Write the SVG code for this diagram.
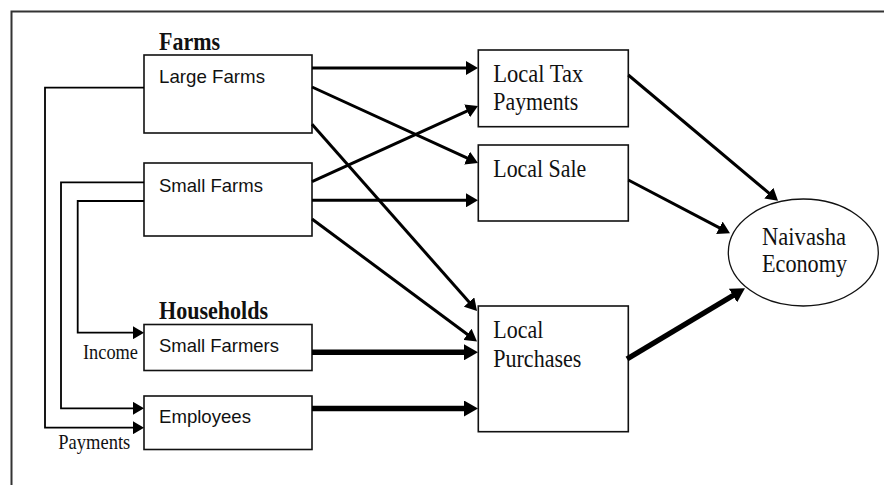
<svg xmlns="http://www.w3.org/2000/svg" width="884" height="485" viewBox="0 0 884 485">
  <style>
    .box { fill: #fff; stroke: #111; stroke-width: 1.6; }
    .oval { fill: #fff; stroke: #111; stroke-width: 1.3; }
    .sans { font-family: "Liberation Sans", Arial, sans-serif; font-size: 18.5px; fill: #111; }
    .serif { font-family: "Liberation Serif", "Times New Roman", serif; font-size: 25.5px; fill: #111; }
    .small { font-family: "Liberation Serif", "Times New Roman", serif; font-size: 21px; fill: #111; }
    .head { font-family: "Liberation Serif", "Times New Roman", serif; font-size: 25px; font-weight: bold; fill: #111; }
    .flow { fill: none; stroke: #000; stroke-width: 3; marker-end: url(#arr); }
    .heavy { fill: none; stroke: #000; stroke-width: 5.5; marker-end: url(#arrBig); }
    .feed { fill: none; stroke: #000; stroke-width: 1.8; marker-end: url(#arrSmall); }
  </style>
  <defs>
    <marker id="arr" markerUnits="userSpaceOnUse" markerWidth="12" markerHeight="14" refX="4" refY="7" orient="auto">
      <path d="M0,0 L12,7 L0,14 z" fill="#000"/>
    </marker>
    <marker id="arrBig" markerUnits="userSpaceOnUse" markerWidth="14" markerHeight="16" refX="4" refY="8" orient="auto">
      <path d="M0,0 L14,8 L0,16 z" fill="#000"/>
    </marker>
    <marker id="arrSmall" markerUnits="userSpaceOnUse" markerWidth="11" markerHeight="13" refX="3" refY="6.5" orient="auto">
      <path d="M0,0 L11,6.5 L0,13 z" fill="#000"/>
    </marker>
  </defs>

  <rect width="884" height="485" fill="#fff"/>
  <!-- outer frame (open to the right and bottom) -->
  <rect x="11.5" y="11.5" width="900" height="500" fill="none" stroke="#333" stroke-width="2"/>

  <!-- group headings -->
  <text class="head" x="159" y="50" textLength="61" lengthAdjust="spacingAndGlyphs">Farms</text>
  <text class="head" x="159" y="319" textLength="109" lengthAdjust="spacingAndGlyphs">Households</text>

  <g id="large-farms">
    <rect class="box" x="144" y="55" width="168" height="78"/>
    <text class="sans" x="159" y="83.3" textLength="106" lengthAdjust="spacingAndGlyphs">Large Farms</text>
  </g>
  <g id="small-farms">
    <rect class="box" x="144" y="163" width="168" height="73"/>
    <text class="sans" x="159" y="191.7" textLength="104" lengthAdjust="spacingAndGlyphs">Small Farms</text>
  </g>
  <g id="small-farmers">
    <rect class="box" x="144" y="324.5" width="168" height="46"/>
    <text class="sans" x="159" y="352.3" textLength="120" lengthAdjust="spacingAndGlyphs">Small Farmers</text>
  </g>
  <g id="employees">
    <rect class="box" x="144" y="396" width="168" height="53.5"/>
    <text class="sans" x="159" y="423.3" textLength="92" lengthAdjust="spacingAndGlyphs">Employees</text>
  </g>

  <g id="local-tax">
    <rect class="box" x="478.3" y="50" width="150" height="76.7"/>
    <text class="serif" x="493.3" y="81.7" textLength="90" lengthAdjust="spacingAndGlyphs">Local Tax</text>
    <text class="serif" x="493.3" y="110" textLength="85" lengthAdjust="spacingAndGlyphs">Payments</text>
  </g>
  <g id="local-sale">
    <rect class="box" x="478.3" y="145" width="150" height="76"/>
    <text class="serif" x="493.3" y="176.7" textLength="93" lengthAdjust="spacingAndGlyphs">Local Sale</text>
  </g>
  <g id="local-purchases">
    <rect class="box" x="478.3" y="306" width="150" height="125.7"/>
    <text class="serif" x="493.3" y="338.3" textLength="50" lengthAdjust="spacingAndGlyphs">Local</text>
    <text class="serif" x="493.3" y="366.7" textLength="88" lengthAdjust="spacingAndGlyphs">Purchases</text>
  </g>
  <g id="naivasha-economy">
    <ellipse class="oval" cx="803.3" cy="252.5" rx="75" ry="53.5"/>
    <text class="serif" x="762" y="245" textLength="84" lengthAdjust="spacingAndGlyphs">Naivasha</text>
    <text class="serif" x="762" y="271.7" textLength="85" lengthAdjust="spacingAndGlyphs">Economy</text>
  </g>

  <g id="connectors">
    <!-- farms to local spending -->
    <path class="flow" d="M312,68 L470,68"/>
    <path class="flow" d="M312,87 L470.7,159.7"/>
    <path class="flow" d="M312,124.3 L471.7,305"/>
    <path class="flow" d="M312,181.7 L470.7,109.3"/>
    <path class="flow" d="M312,200.3 L470,200.3"/>
    <path class="flow" d="M312,219 L470.6,336.7"/>
    <!-- households to local purchases -->
    <path class="heavy" d="M312,352.3 L468,352.3"/>
    <path class="heavy" d="M312,408.5 L468,408.5"/>
    <!-- local spending to the economy -->
    <path class="flow" d="M628.3,75 L771.9,195.6"/>
    <path class="flow" d="M628.3,180 L722.9,229.6"/>
    <path class="heavy" d="M627,359 L736.4,293.5"/>
    <!-- farm payments to households -->
    <path class="feed" d="M144,87.7 H45 V427.7 H136"/>
    <path class="feed" d="M144,182.3 H61 V408.3 H136"/>
    <path class="feed" d="M144,201 H77.7 V332.7 H136"/>
  </g>

  <text class="small" x="83" y="359" textLength="55" lengthAdjust="spacingAndGlyphs">Income</text>
  <text class="small" x="58.3" y="449" textLength="72" lengthAdjust="spacingAndGlyphs">Payments</text>
</svg>
